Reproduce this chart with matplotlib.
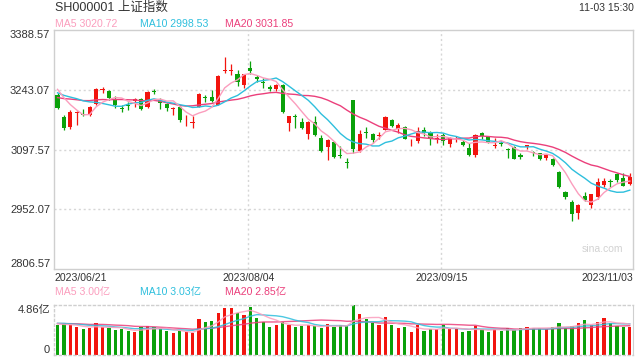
import numpy as np
import pandas as pd
import matplotlib
matplotlib.use('Agg')
import matplotlib.pyplot as plt
from matplotlib.transforms import blended_transform_factory

plt.rcParams['font.family'] = ['Liberation Sans', 'Noto Sans CJK SC', 'DejaVu Sans']

# -------------------- Data (SH000001, 2023/06/21 - 2023/11/03) --------------------
# 19 closes before the window, only needed for the moving averages
pre_close = [3201.26, 3212.50, 3221.45, 3224.21, 3204.56, 3204.63, 3230.07, 3232.44,
             3195.34, 3197.76, 3213.59, 3231.41, 3228.83, 3233.67, 3228.99, 3252.98,
             3273.33, 3255.81, 3240.36]

opens = [3231, 3176, 3153, 3187, 3184, 3181, 3209, 3243.5, 3240, 3217,
         3198.5, 3205, 3216, 3221, 3202, 3239, 3219, 3208, 3197, 3201,
         3166, 3162, 3201, 3226, 3225, 3207, 3290, 3289, 3281, 3255,
         3296, 3274, 3262, 3250, 3245, 3254, 3162, 3180, 3165, 3136,
         3165, 3126, 3104, 3116, 3084, 3066, 3219, 3094, 3140, 3135,
         3131, 3146, 3169, 3148, 3152, 3115, 3118, 3145, 3137, 3124,
         3132, 3110, 3122, 3117, 3102, 3084, 3137, 3128, 3105, 3113,
         3099, 3104, 3085, 3103, 3091, 3089, 3078, 3075, 3043, 2995,
         2970, 2944, 2984, 2962, 2982, 3010, 3021, 3038, 3029, 3013]
highs = [3235, 3181, 3194, 3192, 3196, 3203, 3247, 3250, 3242, 3227,
         3207, 3213, 3223, 3224, 3241, 3246, 3223, 3210, 3202, 3203,
         3181, 3178, 3234, 3231, 3242, 3279, 3322, 3305, 3290, 3282,
         3314, 3279, 3272, 3255, 3257, 3256, 3180, 3184, 3174, 3166,
         3178, 3134, 3124, 3118, 3106, 3077, 3219, 3146, 3152, 3138,
         3140, 3179, 3173, 3161, 3154, 3122, 3153, 3152, 3142, 3135,
         3138, 3128, 3131, 3120, 3114, 3135, 3139, 3130, 3126, 3118,
         3101, 3106, 3088, 3109, 3095, 3090, 3087, 3076, 3044, 2997,
         2974, 2964, 2993, 2990, 3029, 3029, 3025, 3040, 3041, 3040]
lows = [3196, 3144, 3148, 3157, 3180, 3178, 3207, 3235, 3219, 3199,
        3190, 3193, 3200, 3193, 3199, 3233, 3195, 3191, 3181, 3165,
        3156, 3150, 3200, 3213, 3213, 3205, 3283, 3280, 3253, 3248,
        3282, 3262, 3248, 3239, 3240, 3186, 3142, 3149, 3148, 3124,
        3130, 3092, 3073, 3076, 3076, 3053, 3090, 3092, 3126, 3114,
        3123, 3144, 3152, 3137, 3122, 3106, 3114, 3131, 3108, 3113,
        3108, 3103, 3115, 3106, 3081, 3079, 3122, 3113, 3102, 3106,
        3076, 3074, 3075, 3100, 3082, 3072, 3072, 3057, 3004, 2976,
        2924, 2928, 2973, 2956, 2977, 3006, 3006, 3019, 3008, 3012]
closes = [3197.90, 3150.62, 3189.38, 3189.44, 3182.38, 3202.06, 3243.98, 3245.35, 3222.95, 3205.25,
          3196.61, 3203.70, 3221.37, 3196.00, 3236.48, 3237.70, 3209.63, 3197.82, 3198.84, 3169.52,
          3167.75, 3164.16, 3231.52, 3223.13, 3216.67, 3275.93, 3291.04, 3290.95, 3261.69, 3280.46,
          3288.08, 3268.83, 3260.62, 3244.49, 3254.56, 3189.25, 3178.43, 3176.18, 3150.13, 3163.74,
          3131.95, 3092.98, 3120.33, 3078.40, 3082.24, 3064.07, 3098.64, 3135.89, 3137.14, 3119.88,
          3133.25, 3177.06, 3154.37, 3158.08, 3122.35, 3116.72, 3142.78, 3137.06, 3122.18, 3126.55,
          3117.74, 3125.93, 3124.25, 3108.57, 3084.70, 3132.43, 3130.09, 3115.61, 3107.32, 3110.48,
          3096.92, 3075.24, 3078.96, 3107.90, 3088.10, 3073.81, 3083.50, 3058.71, 3005.39, 2983.06,
          2939.29, 2962.24, 2974.11, 2988.30, 3017.78, 3021.55, 3018.77, 3023.08, 3009.41, 3030.80]

# volume in 亿
pre_vol = [3.2, 3.0, 2.9, 3.1, 3.3, 3.0, 2.8, 3.1, 3.2, 2.9,
           3.0, 3.4, 3.1, 2.9, 3.2, 3.3, 3.0, 2.9, 3.1]
volume = [2.88, 2.98, 2.88, 2.68, 2.52, 2.59, 3.08, 2.68, 2.59, 2.42,
          2.49, 2.32, 2.19, 2.68, 2.85, 2.68, 2.52, 2.29, 2.09, 2.36,
          2.19, 2.09, 3.47, 3.17, 3.27, 4.06, 4.55, 4.55, 4.08, 3.86,
          4.65, 3.57, 3.21, 2.68, 2.88, 3.21, 2.95, 2.72, 2.78, 2.91,
          2.78, 2.59, 3.04, 2.72, 2.95, 2.85, 4.86, 3.96, 3.47, 3.08,
          2.88, 3.67, 2.88, 2.59, 2.68, 2.19, 2.88, 2.29, 2.52, 2.55,
          2.91, 2.55, 2.55, 2.23, 2.29, 2.78, 2.55, 2.23, 2.49, 2.29,
          2.65, 2.45, 2.65, 2.68, 2.65, 2.65, 2.49, 2.75, 3.08, 2.65,
          2.80, 3.08, 3.37, 2.88, 3.17, 3.57, 3.14, 2.81, 2.75, 2.73]

tick_idx = [0, 30, 60, 89]
tick_lbl = ['2023/06/21', '2023/08/04', '2023/09/15', '2023/11/03']
price_ticks = [3388.57, 3243.07, 3097.57, 2952.07, 2806.57]
vol_max = 4.86

# -------------------- Styles --------------------
UP, DN = '#f2140e', '#0aa10a'
C5, C10, C20 = '#fb9dbd', '#2ebfdd', '#eb3f7b'
GRID = '#d6d6d6'
TXT = '#333333'

# -------------------- Moving averages --------------------
npre = len(pre_close)
allc = pd.Series(pre_close + closes)
allv = pd.Series(pre_vol + volume)
ma = {k: allc.rolling(k).mean().iloc[npre:].values for k in (5, 10, 20)}
vma = {k: allv.rolling(k).mean().iloc[len(pre_vol):].values for k in (5, 10, 20)}

o = np.array(opens, float)
h = np.array(highs, float)
l = np.array(lows, float)
c = np.array(closes, float)
v = np.array(volume, float)
n = len(c)
x = np.arange(n)
col = np.where(c >= o, UP, DN)

# -------------------- Figure --------------------
fig = plt.figure(figsize=(6.4, 3.6), dpi=100)
W, H = 640, 360
L, R = 54.3, 633
ax = fig.add_axes([L / W, (H - 269) / H, (R - L) / W, 239 / H])
axv = fig.add_axes([L / W, 5 / H, (R - L) / W, 50 / H])

# price panel
for t in price_ticks[1:-1]:
    ax.axhline(t, color=GRID, lw=1, ls=(0, (1.5, 2)), zorder=0)
for i in tick_idx[1:3]:
    ax.axvline(i - 0.3, color=GRID, lw=1, ls=(0, (1.5, 2)), zorder=0)
    axv.axvline(i - 0.3, color=GRID, lw=1, ls=(0, (1.5, 2)), zorder=0)

ax.vlines(x, l, h, colors=col, lw=0.9, zorder=2)
body = np.maximum(np.abs(c - o), 1.3)
bottom = (o + c) / 2 - body / 2
ax.bar(x, body, 0.64, bottom=bottom, color=col, lw=0, zorder=3)

ax.plot(x, ma[20], color=C20, lw=1.0, zorder=4)
ax.plot(x, ma[10], color=C10, lw=1.0, zorder=4)
ax.plot(x, ma[5], color=C5, lw=1.0, zorder=4)

ax.set_xlim(-0.5, n - 0.5)
ax.set_ylim(price_ticks[-1], price_ticks[0])
ax.set_yticks(price_ticks)
ax.set_yticklabels(['%.2f' % t for t in price_ticks], fontsize=8, color=TXT)
ax.tick_params(axis='y', length=0, pad=3)
ax.tick_params(axis='x', length=0, labelbottom=False)
lbls = ax.get_yticklabels()
lbls[0].set_va('top')
lbls[-1].set_va('bottom')
for s in ax.spines.values():
    s.set_color('#cfcfcf')
    s.set_linewidth(1)

tr = blended_transform_factory(ax.transData, ax.transAxes)
for k, (i, t) in enumerate(zip(tick_idx, tick_lbl)):
    if k == 0:
        ax.text(-0.5, -9 / 239, t, transform=tr, ha='left', va='center', fontsize=7.6, color=TXT)
    elif k == len(tick_idx) - 1:
        ax.text(n - 0.5, -9 / 239, t, transform=tr, ha='right', va='center', fontsize=7.6, color=TXT)
    else:
        ax.text(i - 0.3, -9 / 239, t, transform=tr, ha='center', va='center', fontsize=7.6, color=TXT)

# -------------------- Volume panel --------------------
axv.bar(x, v, 0.5, color=col, lw=0, zorder=2)
axv.plot(x, vma[20], color=C20, lw=1.0, alpha=0.85, zorder=3)
axv.plot(x, vma[10], color=C10, lw=1.0, alpha=0.85, zorder=3)
axv.plot(x, vma[5], color=C5, lw=1.0, alpha=0.85, zorder=3)
axv.set_xlim(-0.5, n - 0.5)
axv.set_ylim(0, vol_max)
axv.set_yticks([vol_max, 0])
axv.set_yticklabels(['%.2f亿' % vol_max, '0'], fontsize=8, color=TXT)
axv.tick_params(axis='y', length=0, pad=3)
axv.tick_params(axis='x', length=0, labelbottom=False)
vl = axv.get_yticklabels()
vl[0].set_va('top')
vl[1].set_va('bottom')
for side in ('top', 'bottom', 'left'):
    axv.spines[side].set_color('#cfcfcf')
    axv.spines[side].set_linestyle((0, (1.5, 2)))
    axv.spines[side].set_linewidth(1)
axv.spines['right'].set_color('#cfcfcf')

# -------------------- Header texts --------------------
def ftext(px, py, s, **kw):
    fig.text(px / W, 1 - py / H, s, va='center', **kw)

ftext(55, 8, 'SH000001 上证指数', fontsize=9, color=TXT)
ftext(634, 8, '11-03 15:30', fontsize=7.5, color=TXT, ha='right')
ftext(55, 24, 'MA5 %.2f' % ma[5][-1], fontsize=7.6, color=C5)
ftext(140, 24, 'MA10 %.2f' % ma[10][-1], fontsize=7.6, color=C10)
ftext(225, 24, 'MA20 %.2f' % ma[20][-1], fontsize=7.6, color=C20)
ftext(55, 292, 'MA5 %.2f亿' % vma[5][-1], fontsize=7.6, color=C5)
ftext(140, 292, 'MA10 %.2f亿' % vma[10][-1], fontsize=7.6, color=C10)
ftext(225, 292, 'MA20 %.2f亿' % vma[20][-1], fontsize=7.6, color=C20)
ftext(602, 249, 'sina.com', fontsize=7.5, color='#d2d2d2', ha='center')

fig.savefig('out.png', dpi=100)
plt.close(fig)
